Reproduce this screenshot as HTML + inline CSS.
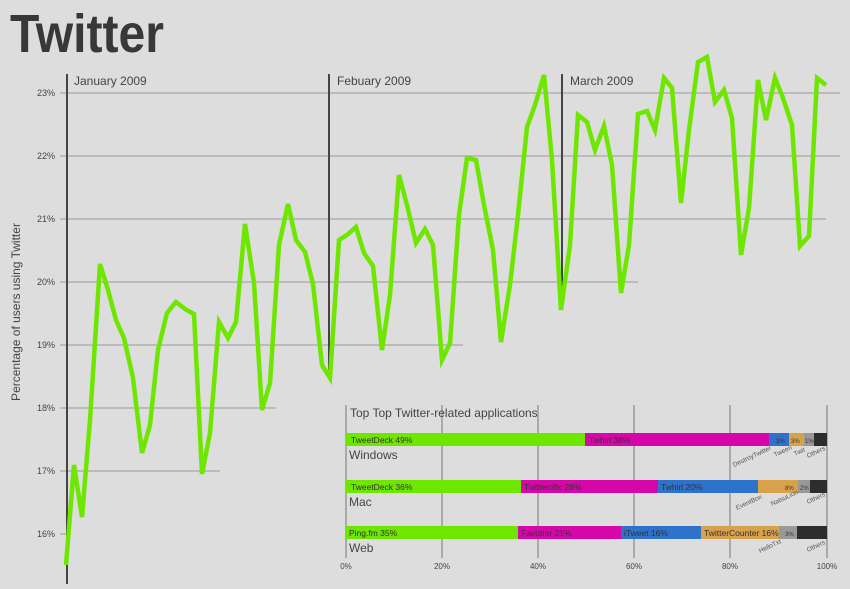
<!DOCTYPE html>
<html><head><style>
body{margin:0;background:#dcdddc;width:850px;height:584px;overflow:hidden;font-family:"Liberation Sans",sans-serif}
</style></head><body>
<svg width="850" height="584" xmlns="http://www.w3.org/2000/svg" font-family="Liberation Sans, sans-serif">
<rect width="850" height="584" fill="#dcdddc"/>
<text x="10" y="52" font-size="54" font-weight="bold" fill="#383838" textLength="154" lengthAdjust="spacingAndGlyphs">Twitter</text>
<g stroke="#999" stroke-width="1">
<line x1="60" y1="93" x2="840" y2="93"/>
<line x1="60" y1="156" x2="840" y2="156"/>
<line x1="60" y1="219" x2="826" y2="219"/>
<line x1="60" y1="282" x2="638" y2="282"/>
<line x1="60" y1="345" x2="463" y2="345"/>
<line x1="60" y1="408" x2="276" y2="408"/>
<line x1="60" y1="471" x2="220" y2="471"/>
<line x1="60" y1="534" x2="70" y2="534"/>
</g>
<g font-size="9" fill="#444" text-anchor="end">
<text x="55" y="96">23%</text><text x="55" y="159">22%</text><text x="55" y="222">21%</text><text x="55" y="285">20%</text><text x="55" y="348">19%</text><text x="55" y="411">18%</text><text x="55" y="474">17%</text><text x="55" y="537">16%</text>
</g>
<text transform="translate(20,312) rotate(-90)" font-size="12" fill="#444" text-anchor="middle">Percentage of users using Twitter</text>
<g stroke="#444" stroke-width="2">
<line x1="67" y1="74" x2="67" y2="584"/>
<line x1="329" y1="74" x2="329" y2="370"/>
<line x1="562" y1="74" x2="562" y2="300"/>
</g>
<g font-size="12" fill="#444">
<text x="74" y="85">January 2009</text><text x="337" y="85">Febuary 2009</text><text x="570" y="85">March 2009</text>
</g>
<polyline fill="none" stroke="#6ee600" stroke-width="4.5" stroke-linejoin="miter" points="66,565 74,465 82,517 90,420 100,264 108,290 116,320 124,338 133,378 142,453 150,425 158,350 167,313 176,302 185,309 194,314 202,474 210,433 219,322 228,338 236,322 245,224 254,283 262,410 270,383 279,245 288,204 296,240 305,252 313,284 322,365 330,378 339,240 347,235 356,227 364,253 373,266 382,350 390,295 399,175 407,205 416,243 425,229 433,245 442,360 450,343 459,215 467,158 476,160 484,205 493,250 501,342 510,285 518,215 527,127 535,105 544,75 552,160 561,310 570,245 578,115 587,122 595,150 604,126 612,165 621,293 629,245 638,114 647,111 655,130 664,78 672,88 681,203 689,130 698,62 707,57 715,102 724,90 732,118 741,255 749,208 758,80 766,120 775,78 783,98 792,125 800,246 809,236 817,78 826,85"/>
<rect x="343" y="403" width="500" height="181" fill="#dcdddc"/>
<g stroke="#888" stroke-width="1.2">
<line x1="346" y1="405" x2="346" y2="558"/><line x1="442" y1="405" x2="442" y2="558"/><line x1="538" y1="405" x2="538" y2="558"/><line x1="634" y1="405" x2="634" y2="558"/><line x1="730" y1="405" x2="730" y2="558"/><line x1="827" y1="405" x2="827" y2="558"/>
</g>
<text x="350" y="417" font-size="12" fill="#444">Top Top Twitter-related applications</text>
<g>
<rect x="346" y="433" width="239" height="13" fill="#6ee600"/><rect x="585" y="433" width="184" height="13" fill="#d607a8"/><rect x="769" y="433" width="20" height="13" fill="#2f72cc"/><rect x="789" y="433" width="15" height="13" fill="#d8a24c"/><rect x="804" y="433" width="10" height="13" fill="#999"/><rect x="814" y="433" width="13" height="13" fill="#2d2d2d"/>
<rect x="346" y="480" width="175" height="13" fill="#6ee600"/><rect x="521" y="480" width="137" height="13" fill="#d607a8"/><rect x="658" y="480" width="100" height="13" fill="#2f72cc"/><rect x="758" y="480" width="40" height="13" fill="#d8a24c"/><rect x="798" y="480" width="12" height="13" fill="#999"/><rect x="810" y="480" width="17" height="13" fill="#2d2d2d"/>
<rect x="346" y="526" width="172" height="13" fill="#6ee600"/><rect x="518" y="526" width="103" height="13" fill="#d607a8"/><rect x="621" y="526" width="80" height="13" fill="#2f72cc"/><rect x="701" y="526" width="78" height="13" fill="#d8a24c"/><rect x="779" y="526" width="18" height="13" fill="#999"/><rect x="797" y="526" width="30" height="13" fill="#2d2d2d"/>
</g>
<g font-size="8.5" fill="#333">
<text x="351" y="443">TweetDeck 49%</text><text x="589" y="443">Twhirl 38%</text><text x="776" y="443" font-size="6">3%</text><text x="791" y="443" font-size="6">3%</text><text x="805" y="443" font-size="6">1%</text>
<text x="351" y="490">TweetDeck 36%</text><text x="524" y="490">Twitterrific 28%</text><text x="661" y="490">Twhirl 20%</text><text x="785" y="490" font-size="6">8%</text><text x="800" y="490" font-size="6">2%</text>
<text x="349" y="536">Ping.fm 35%</text><text x="521" y="536">Favotter 21%</text><text x="624" y="536">iTweet 16%</text><text x="704" y="536">TwitterCounter 16%</text><text x="785" y="536" font-size="6">3%</text>
</g>
<g font-size="12" fill="#444"><text x="349" y="459">Windows</text><text x="349" y="506">Mac</text><text x="349" y="552">Web</text></g>
<g font-size="6.5" fill="#555">
<text transform="translate(734,467) rotate(-25)">DestroyTwitter</text><text transform="translate(775,457) rotate(-25)">Tween</text><text transform="translate(795,456) rotate(-25)">Twit</text><text transform="translate(808,458) rotate(-25)">Others</text>
<text transform="translate(737,510) rotate(-25)">EventBox</text><text transform="translate(772,506) rotate(-25)">NatsuLion</text><text transform="translate(808,504) rotate(-25)">Others</text>
<text transform="translate(760,553) rotate(-25)">HelloTxt</text><text transform="translate(808,552) rotate(-25)">Others</text>
</g>
<g font-size="8" fill="#444" text-anchor="middle">
<text x="346" y="569">0%</text><text x="442" y="569">20%</text><text x="538" y="569">40%</text><text x="634" y="569">60%</text><text x="730" y="569">80%</text><text x="827" y="569">100%</text>
</g>
</svg>
</body></html>
